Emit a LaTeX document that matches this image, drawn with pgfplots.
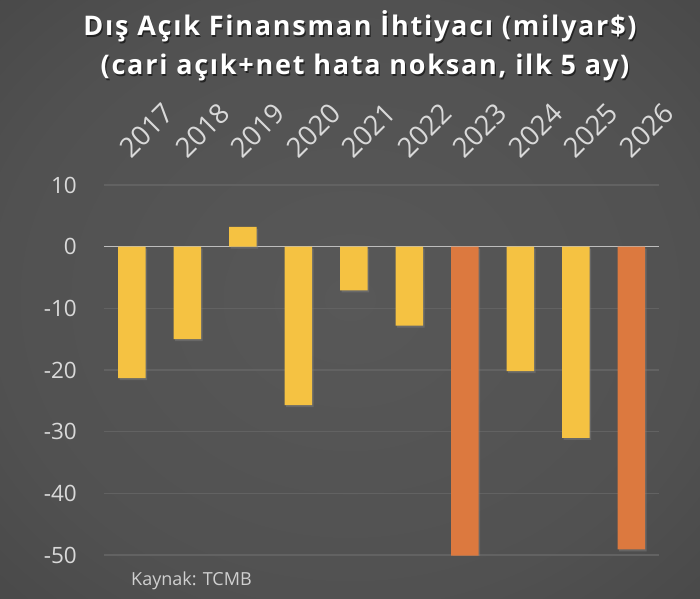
\documentclass[border=0pt]{standalone}
\usepackage{fontspec}
\setmainfont{Open Sans}
\newfontfamily\titlefont[LetterSpace=6.5]{Open Sans}
\usepackage{pgfplots}
\pgfplotsset{compat=1.18}
\usetikzlibrary{shadows}

\definecolor{barY}{HTML}{F5C242}
\definecolor{barO}{HTML}{DC793F}
\definecolor{gridc}{HTML}{626262}
\definecolor{zeroc}{HTML}{BDBDBD}
\definecolor{labc}{HTML}{D9D9D9}
\definecolor{bgin}{HTML}{585858}
\definecolor{bgout}{HTML}{2A2A2A}
\pgfdeclareradialshading{bgshade}{\pgfpoint{0bp}{0bp}}{%
  color(0bp)=(bgin); color(25bp)=(bgin!85!bgout);
  color(50bp)=(bgin!45!bgout); color(72bp)=(bgout)}

\begin{document}
\begin{tikzpicture}
  \shade[shading=bgshade] (0,0) rectangle (700pt,598pt);
  \path[use as bounding box] (0,0) rectangle (700pt,598pt);

  \begin{axis}[
      at={(104pt,43pt)}, anchor=south west,
      scale only axis, width=555pt, height=370pt,
      xmin=-0.5, xmax=9.5, ymin=-50, ymax=10,
      axis line style={draw=none},
      major tick length=0pt,
      xtick={0,...,9},
      xticklabels={2017,2018,2019,2020,2021,2022,2023,2024,2025,2026},
      xticklabel pos=upper,
      xticklabel shift=25pt,
      xticklabel style={font=\fontsize{27.5}{31}\selectfont, text=labc,
        rotate=45, anchor=south west, inner sep=0pt},
      ytick={-50,-40,-30,-20,-10,0,10},
      yticklabels={-50,-40,-30,-20,-10,0,10},
      yticklabel style={font=\fontsize{22.5}{26}\selectfont, text=labc,
        inner sep=0pt, xshift=-27pt},
      ymajorgrids,
      grid style={gridc, line width=1.6pt},
      ybar, bar width=27.5pt, bar shift=0pt,
    ]
    % zero line
    \draw[zeroc, line width=1.6pt] (axis cs:-0.5,0) -- (axis cs:9.5,0);

    \addplot[fill=barY, draw=none,
      drop shadow={shadow xshift=1.5pt, shadow yshift=-2pt, opacity=0.45}]
      coordinates {(0,-21.3) (1,-15.0) (2,3.2) (3,-25.7) (4,-7.1)
                   (5,-12.8) (7,-20.2) (8,-31.0)};
    \addplot[fill=barO, draw=none,
      drop shadow={shadow xshift=1.5pt, shadow yshift=-2pt, opacity=0.45}]
      coordinates {(6,-50.1) (9,-49.1)};
  \end{axis}

  % title, two lines, with a soft shadow
  \foreach \dx/\dy/\col/\op in {1.2pt/-1.5pt/black/0.55, 0pt/0pt/white/1} {
    \node[text=\col, opacity=\op, inner sep=0pt, anchor=base,
          font=\titlefont\bfseries\fontsize{27}{32}\selectfont]
      at ([xshift=\dx, yshift=\dy]360pt,562pt)
      {Dış Açık Finansman İhtiyacı (milyar\$)};
    \node[text=\col, opacity=\op, inner sep=0pt, anchor=base,
          font=\titlefont\bfseries\fontsize{27}{32}\selectfont]
      at ([xshift=\dx, yshift=\dy]365pt,523pt)
      {(cari açık+net hata noksan, ilk 5 ay)};
  }

  \node[anchor=base west, inner sep=0pt, text=labc!90!gray,
        font=\fontsize{18}{21}\selectfont] at (131pt,13pt) {Kaynak: TCMB};
\end{tikzpicture}
\end{document}
